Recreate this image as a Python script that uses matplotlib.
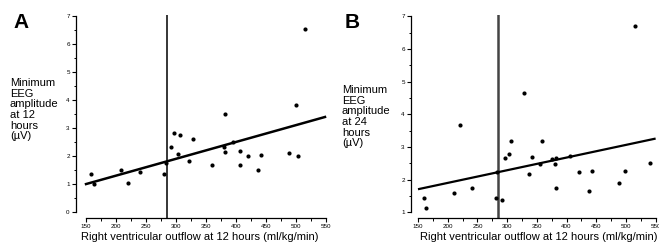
import numpy as np
import matplotlib.pyplot as plt
from matplotlib.ticker import MultipleLocator

plt.rcParams['font.family'] = ['Liberation Sans', 'DejaVu Sans']

# panel A: right ventricular outflow vs min EEG amplitude at 12 h
rvo_a = [159, 164, 209, 220, 240, 280, 283, 292, 296, 306, 304, 328, 321,
         381, 499, 380, 394, 381, 406, 420, 442, 359, 406, 437, 488, 503, 515]
eeg_a = [1.36, 1.01, 1.52, 1.04, 1.44, 1.35, 1.75, 2.32, 2.83, 2.75, 2.07, 2.62, 1.82,
         3.52, 3.82, 2.33, 2.52, 2.14, 2.20, 2.00, 2.05, 1.68, 1.67, 1.51, 2.12, 2.00, 6.55]
fit_x_a = [148, 550]
fit_y_a = [0.99, 3.41]

# panel B: same outflow vs min EEG amplitude at 24 h
rvo_b = [160, 164, 210, 220, 241, 281, 292, 283, 297, 304, 307, 329, 336, 342,
         355, 359, 376, 382, 381, 382, 406, 421, 443, 438, 488, 499, 516, 541]
eeg_b = [1.43, 1.13, 1.59, 3.67, 1.76, 1.44, 1.38, 2.25, 2.68, 2.79, 3.19, 4.66, 2.18, 2.71,
         2.47, 3.19, 2.62, 2.66, 2.47, 1.74, 2.72, 2.24, 2.28, 1.67, 1.91, 2.28, 6.70, 2.51]
fit_x_b = [150, 550]
fit_y_b = [1.71, 3.26]

cutoff_a = 285
cutoff_b = 284

xlabel = "Right ventricular outflow at 12 hours (ml/kg/min)"

fig = plt.figure(figsize=(6.59, 2.44), dpi=100)
W, H = 659, 244


def make_axes(left, right, bottom, top):
    return fig.add_axes([left / W, 1 - bottom / H, (right - left) / W, (bottom - top) / H])


def style(ax, ylo):
    for s in ['top', 'right']:
        ax.spines[s].set_visible(False)
    ax.spines['left'].set_bounds(ylo, 7)
    ax.spines['bottom'].set_bounds(150, 550)
    for s in ['left', 'bottom']:
        ax.spines[s].set_linewidth(0.9)
    ax.set_xticks(np.arange(150, 551, 50))
    ax.xaxis.set_minor_locator(MultipleLocator(25))
    ax.set_yticks(np.arange(ylo, 8, 1))
    ax.yaxis.set_minor_locator(MultipleLocator(0.5))
    ax.tick_params(which='major', length=3, width=0.8, labelsize=4.5, pad=1.5)
    ax.tick_params(which='minor', length=1.8, width=0.7)
    ax.patch.set_alpha(0)


# panel A
ax1 = make_axes(76, 328, 218, 15)
ax1.set_xlim(133.3, 553)
ax1.set_ylim(-0.21, 7.04)
ax1.axvline(cutoff_a, color='black', lw=1.1)
ax1.plot(fit_x_a, fit_y_a, color='black', lw=1.8, solid_capstyle='butt')
ax1.plot(rvo_a, eeg_a, 'o', color='black', ms=3, mew=0)
style(ax1, 0)

# panel B
ax2 = make_axes(411, 658, 218, 15)
ax2.set_xlim(138.2, 554)
ax2.set_ylim(0.83, 7.04)
ax2.axvline(cutoff_b, color='#444444', lw=1.8)
ax2.plot(fit_x_b, fit_y_b, color='black', lw=1.6, solid_capstyle='butt')
ax2.plot(rvo_b, eeg_b, 'o', color='black', ms=3, mew=0)
style(ax2, 1)

# labels
fig.text(13 / W, 1 - 23 / H, "A", fontsize=15, fontweight='bold', va='center', ha='left')
fig.text(345 / W, 1 - 23 / H, "B", fontsize=15, fontweight='bold', va='center', ha='left')

fig.text(10 / W, 1 - 78 / H, "Minimum\nEEG\namplitude\nat 12\nhours\n(\u00b5V)",
         fontsize=8, va='top', ha='left', linespacing=1.08)
fig.text(342 / W, 1 - 85 / H, "Minimum\nEEG\namplitude\nat 24\nhours\n(\u00b5V)",
         fontsize=8, va='top', ha='left', linespacing=1.08)

fig.text(200 / W, 1 - 237 / H, xlabel, fontsize=8, ha='center', va='center')
fig.text(539 / W, 1 - 237 / H, xlabel, fontsize=8, ha='center', va='center')

fig.savefig('out.png', dpi=100)
